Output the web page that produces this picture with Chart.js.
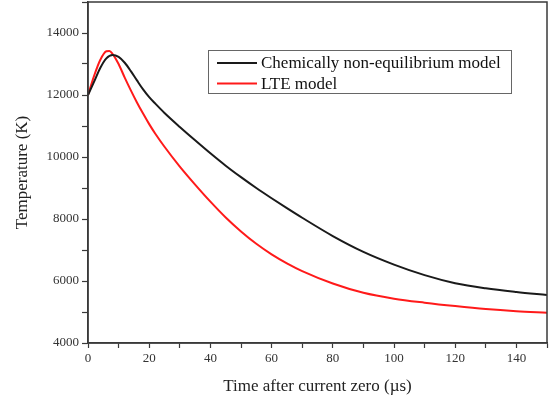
<!DOCTYPE html>
<html>
<head>
<meta charset="utf-8">
<script src="https://cdn.jsdelivr.net/npm/chart.js@4.4.0/dist/chart.umd.min.js"></script>
<style>
  body { margin: 0; background: #fff; }
  #wrap { width: 557px; height: 405px; }
</style>
</head>
<body>
<div id="wrap"><canvas id="tempChart"></canvas></div>
<script>
// time after current zero (us)
var tNoneq = [0, 2, 4, 6, 8, 10, 12, 14, 16, 18, 20, 22, 25, 30, 35, 40, 45, 50, 55, 60, 65, 70, 80, 90, 100, 110, 120, 130, 140, 150];
var tempNoneq = [12000, 12430, 12870, 13180, 13290, 13230, 13040, 12770, 12470, 12180, 11930, 11720, 11420, 10970, 10540, 10120, 9720, 9350, 9000, 8670, 8350, 8040, 7450, 6940, 6530, 6190, 5930, 5765, 5645, 5545];

var tLte = [0, 2, 4, 6, 7, 8, 10, 12, 14, 16, 18, 20, 22, 25, 30, 35, 40, 45, 50, 55, 60, 65, 70, 80, 90, 100, 110, 120, 130, 140, 150];
var tempLte = [12000, 12620, 13130, 13410, 13420, 13330, 13000, 12560, 12150, 11760, 11400, 11060, 10750, 10330, 9690, 9110, 8560, 8050, 7600, 7200, 6860, 6570, 6320, 5920, 5620, 5430, 5300, 5190, 5095, 5025, 4975];

var xTicks = [0, 20, 40, 60, 80, 100, 120, 140];
var yTicks = [4000, 6000, 8000, 10000, 12000, 14000];

var seriesNames = ['Chemically non-equilibrium model', 'LTE model'];
var seriesColors = ['#1a1a1a', '#ff1a1a'];

function toPoints(xs, ys) {
    return xs.map(function(x, i) { return { x: x, y: ys[i] }; });
}

var serif = 'Liberation Serif, Times New Roman, serif';
var axisColor = '#3a3a3a';

var framePlugin = {
    id: 'frame',
    afterDraw: function(chart) {
        var ctx = chart.ctx, a = chart.chartArea;
        ctx.save();
        ctx.strokeStyle = axisColor;
        ctx.lineWidth = 1.5;
        ctx.strokeRect(a.left, a.top, a.right - a.left, a.bottom - a.top);

        // legend box
        ctx.lineWidth = 1;
        ctx.strokeStyle = '#666';
        ctx.strokeRect(208.5, 50.5, 303, 43);
        ctx.font = '17px ' + serif;
        ctx.textBaseline = 'middle';
        chart.data.datasets.forEach(function(ds, i) {
            var y = 63 + i * 20.5;
            ctx.strokeStyle = ds.borderColor;
            ctx.lineWidth = 2;
            ctx.beginPath();
            ctx.moveTo(217, y);
            ctx.lineTo(257, y);
            ctx.stroke();
            ctx.fillStyle = '#111';
            ctx.fillText(ds.label, 261, y + 1);
        });
        ctx.restore();
    }
};

var ctx = document.getElementById('tempChart').getContext('2d');
var tempChart = new Chart(ctx, {
    type: 'line',
    data: {
        datasets: [{
            label: seriesNames[0],
            data: toPoints(tNoneq, tempNoneq),
            borderColor: seriesColors[0],
            borderWidth: 2,
            pointRadius: 0,
            cubicInterpolationMode: 'monotone'
        }, {
            label: seriesNames[1],
            data: toPoints(tLte, tempLte),
            borderColor: seriesColors[1],
            borderWidth: 2,
            pointRadius: 0,
            cubicInterpolationMode: 'monotone'
        }]
    },
    options: {
        responsive: true,
        maintainAspectRatio: false,
        animation: false,
        layout: { padding: { top: 2, right: 10, left: 0, bottom: 0 } },
        plugins: {
            legend: { display: false },
            tooltip: { enabled: false }
        },
        scales: {
            x: {
                type: 'linear',
                min: 0,
                max: 150,
                afterFit: function(scale) { scale.height = 62; },
                ticks: {
                    stepSize: 10,
                    autoSkip: false,
                    maxRotation: 0,
                    padding: 3,
                    color: '#333',
                    font: { family: serif, size: 13 },
                    callback: function(v) { return xTicks.indexOf(v) >= 0 ? String(v) : ''; }
                },
                grid: { drawOnChartArea: false, tickLength: 5, color: axisColor, tickWidth: 1.2 },
                border: { color: axisColor, width: 1.5 },
                title: {
                    display: true,
                    text: 'Time after current zero (\u00b5s)',
                    color: '#222',
                    font: { family: serif, size: 17 },
                    padding: { top: 0, bottom: 8 }
                }
            },
            y: {
                min: 4000,
                max: 15000,
                afterFit: function(scale) {
                    scale.width = 88;
                    scale.paddingTop = 0; // no room kept for the (empty) top label
                },
                ticks: {
                    stepSize: 1000,
                    autoSkip: false,
                    padding: 3,
                    color: '#333',
                    font: { family: serif, size: 13 },
                    callback: function(v) { return yTicks.indexOf(v) >= 0 ? String(v) : ''; }
                },
                grid: { drawOnChartArea: false, tickLength: 6, color: axisColor, tickWidth: 1.2 },
                border: { color: axisColor, width: 1.5 },
                title: {
                    display: true,
                    text: 'Temperature (K)',
                    color: '#222',
                    font: { family: serif, size: 17 },
                    padding: { top: 12, bottom: 0 }
                }
            }
        }
    },
    plugins: [framePlugin]
});
</script>
</body>
</html>
